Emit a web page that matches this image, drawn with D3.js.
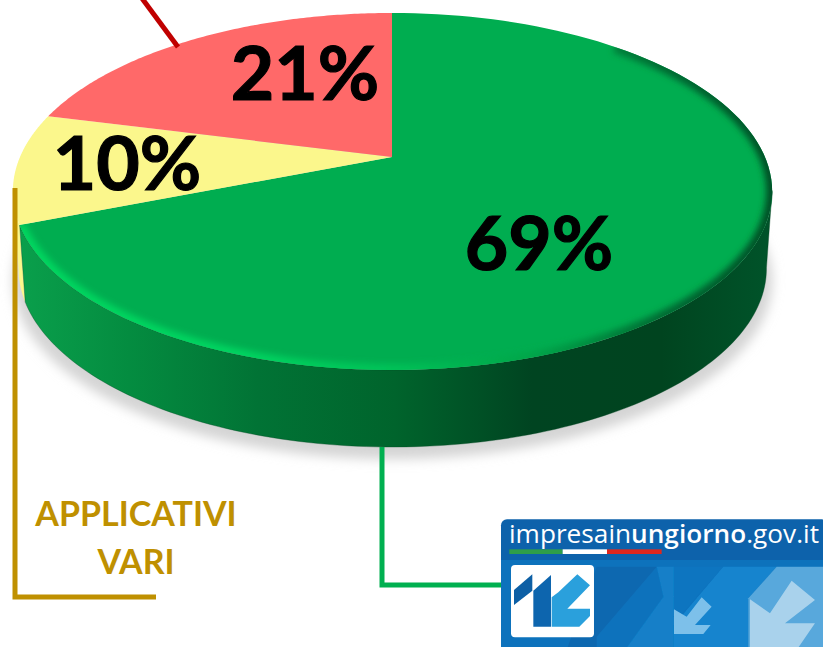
<!DOCTYPE html>
<html>
<head>
<meta charset="utf-8">
<script src="https://cdn.jsdelivr.net/npm/d3@7"></script>
<style>
  html, body { margin: 0; padding: 0; background: #fff; overflow: hidden; }
  svg { display: block; }
</style>
</head>
<body>
<script>
var categories = ["impresainungiorno.gov.it", "APPLICATIVI VARI", "altro"];
var values = [69, 10, 21];
var labels = ["69%", "10%", "21%"];
var colors = ["#00AD50", "#FBF78C", "#FF6969"];

var width = 823, height = 647;

// the pie is seen in perspective: the apex is above the centre of the rim ellipse
var apexX = 392, apexY = 157;
var depth = 77;

function project(angle, k, drop, shrink) {
  var ux = Math.sin(angle) * k,
      uy = -Math.cos(angle) * k,
      w = 1 - 0.1933 * uy,
      a = (ux > 0 ? 373 : 372) * (shrink || 1);
  return [apexX + a * ux / w, (141.5 * uy + 157) / w + (drop || 0)];
}

function rim(a0, a1, drop, shrink) {
  return d3.range(0, 121).map(function(i) {
    return project(a0 + (a1 - a0) * i / 120, 1, drop, shrink);
  });
}

var line = d3.line();

var svg = d3.select("body").append("svg")
  .attr("width", width)
  .attr("height", height);

var defs = svg.append("defs");

defs.append("filter").attr("id", "shadowBlur")
  .attr("x", "-10%").attr("y", "-10%").attr("width", "120%").attr("height", "120%")
  .append("feGaussianBlur").attr("stdDeviation", 6);
defs.append("filter").attr("id", "bevelBlur")
  .attr("x", "-10%").attr("y", "-10%").attr("width", "120%").attr("height", "120%")
  .append("feGaussianBlur").attr("stdDeviation", 3.4);
defs.append("filter").attr("id", "logoBlur")
  .append("feGaussianBlur").attr("stdDeviation", 0.35);

function gradient(id, stops) {
  var g = defs.append("linearGradient").attr("id", id)
    .attr("gradientUnits", "userSpaceOnUse")
    .attr("x1", 15).attr("x2", 775).attr("y1", 0).attr("y2", 0);
  stops.forEach(function(s) {
    g.append("stop").attr("offset", s[0]).attr("stop-color", s[1]);
  });
}

gradient("sideFill", [[0, "#0AA04C"], [0.15, "#048C40"], [0.32, "#017335"], [0.5, "#00642C"],
                      [0.68, "#004421"], [0.85, "#00441F"], [1, "#00542A"]]);
gradient("bevelStroke", [[0, "#00D65F"], [0.3, "#00D460"], [0.5, "#00C257"], [0.68, "#00A549"],
                         [0.85, "#006B33"], [1, "#004F26"]]);

var arcs = d3.pie().sort(null)(values);
var greenArc = arcs[0], yellowArc = arcs[1];

function slicePath(d) {
  return line([[apexX, apexY]].concat(rim(d.startAngle, d.endAngle))) + "Z";
}

// angles of the widest points of the rim, where the wall starts and stops
var rightEdge = 1.76, leftEdge = 4.52;

// drop shadow
svg.append("path")
  .attr("d", line(rim(0, 2 * Math.PI, depth + 12, 1)) + "Z")
  .attr("fill", "#d4d4d4")
  .attr("filter", "url(#shadowBlur)");

// yellow sliver of wall at the far left
svg.append("path")
  .attr("d", line(rim(greenArc.endAngle, leftEdge).concat(rim(greenArc.endAngle, leftEdge, depth, 0.985).reverse())) + "Z")
  .attr("fill", colors[1]);

// green wall
svg.append("path")
  .attr("d", line(rim(rightEdge, greenArc.endAngle).concat(rim(rightEdge, greenArc.endAngle, depth, 0.985).reverse())) + "Z")
  .attr("fill", "url(#sideFill)")
  .attr("stroke", "#00441F")
  .attr("stroke-opacity", 0.35)
  .attr("stroke-width", 1);

// top face
svg.selectAll("path.slice")
  .data(arcs)
  .enter().append("path")
    .attr("class", "slice")
    .attr("d", slicePath)
    .attr("fill", function(d, i) { return colors[i]; });

// bevel along the green rim
defs.append("clipPath").attr("id", "greenClip")
  .append("path").attr("d", slicePath(greenArc));

svg.append("g")
  .attr("clip-path", "url(#greenClip)")
  .append("path")
    .attr("d", line(rim(0.75, greenArc.endAngle)))
    .attr("fill", "none")
    .attr("stroke", "url(#bevelStroke)")
    .attr("stroke-width", 12)
    .attr("filter", "url(#bevelBlur)");

// leader lines
var leaders = [
  { color: "#C00000", pts: [[141, -3], [178, 47]] },
  { color: "#BF9000", pts: [[15, 188], [15, 597], [156, 597]] },
  { color: "#00B050", pts: [[382, 447], [382, 585], [503, 585]] }
];

svg.selectAll("path.leader")
  .data(leaders)
  .enter().append("path")
    .attr("class", "leader")
    .attr("d", function(d) { return line(d.pts); })
    .attr("fill", "none")
    .attr("stroke", function(d) { return d.color; })
    .attr("stroke-width", 5);

// percentages
var labelAnchors = [[539, 270], [127, 190], [305, 100]];

svg.selectAll("text.pct")
  .data(labels)
  .enter().append("text")
    .attr("class", "pct")
    .attr("x", function(d, i) { return labelAnchors[i][0]; })
    .attr("y", function(d, i) { return labelAnchors[i][1]; })
    .attr("text-anchor", "middle")
    .attr("font-family", "Lato, 'Open Sans', sans-serif")
    .attr("font-weight", 700)
    .attr("font-size", 75)
    .attr("fill", "#000")
    .attr("stroke", "#000")
    .attr("stroke-width", 1.2)
    .text(function(d) { return d; });

// gold label
var goldLines = ["APPLICATIVI", "VARI"];

svg.selectAll("text.gold")
  .data(goldLines)
  .enter().append("text")
    .attr("class", "gold")
    .attr("x", 136)
    .attr("y", function(d, i) { return 526 + i * 48; })
    .attr("text-anchor", "middle")
    .attr("font-family", "Lato, 'Open Sans', sans-serif")
    .attr("font-weight", 700)
    .attr("font-size", 34)
    .attr("fill", "#BF9000")
    .text(function(d) { return d; });

// logo, drawn in the 3x coordinates of the crop
defs.append("clipPath").attr("id", "logoClip")
  .append("rect").attr("x", 33).attr("y", 28).attr("width", 980).attr("height", 400).attr("rx", 18);

var logo = svg.append("g")
  .attr("transform", "translate(490,510) scale(0.3333)");

var logoArt = logo.append("g")
  .attr("clip-path", "url(#logoClip)")
  .attr("filter", "url(#logoBlur)");

var logoShapes = [
  { fill: "#0A62AB", d: "M0,0H1000V420H0Z" },
  { fill: "#0A72BC", d: "M33,150H1000V420H33Z" },
  { fill: "#0A68B0", d: "M320,170H500L320,380V420H230Z" },
  { fill: "#127FC8", d: "M500,170H552V420H405L520,260Z" },
  { fill: "#0B74C0", d: "M552,170H700L552,340Z" },
  { fill: "#1684CE", d: "M700,170H860L775,265V420H552V345Z" },
  { fill: "#58A8DC", d: "M860,170H1000V420H775V265Z" },
  { fill: "#7DC0EA", d: "M552,298L590,320L635,262L665,290L615,345H662L640,372H552Z" },
  { fill: "#A9D2EC", d: "M780,268L840,310L905,212L975,270L885,340H975L920,420H780Z" },
  { fill: "#fff", d: "M75,165H300Q312,165 312,177V370Q312,382 300,382H75Q63,382 63,370V177Q63,165 75,165Z" },
  { fill: "#0B5FA5", d: "M72,240L127,193V242L72,285Z" },
  { fill: "#0E65AE", d: "M130,242L183,195V350H130Z" },
  { fill: "#29A0DC", d: "M185,262L205,247L262,193L300,226L232,296L300,296V318L268,350H185Z" }
];

logoArt.selectAll("path")
  .data(logoShapes)
  .enter().append("path")
    .attr("d", function(d) { return d.d; })
    .attr("fill", function(d) { return d.fill; });

var flag = [[58, 160, "#2E9E4A"], [218, 133, "#fff"], [351, 164, "#E0281F"]];

logoArt.selectAll("rect.flag")
  .data(flag)
  .enter().append("rect")
    .attr("class", "flag")
    .attr("x", function(d) { return d[0]; })
    .attr("width", function(d) { return d[1]; })
    .attr("y", 118)
    .attr("height", 14)
    .attr("fill", function(d) { return d[2]; });

var logoText = svg.append("text")
  .attr("x", 509)
  .attr("y", 543)
  .attr("font-family", "'Open Sans', sans-serif")
  .attr("font-size", 25)
  .attr("fill", "#fff")
  .attr("textLength", 310)
  .attr("lengthAdjust", "spacingAndGlyphs");

[["impresa", 500], ["in", 400], ["ungiorno", 600], [".gov.it", 400]].forEach(function(p) {
  logoText.append("tspan").attr("font-weight", p[1]).text(p[0]);
});
</script>
</body>
</html>
